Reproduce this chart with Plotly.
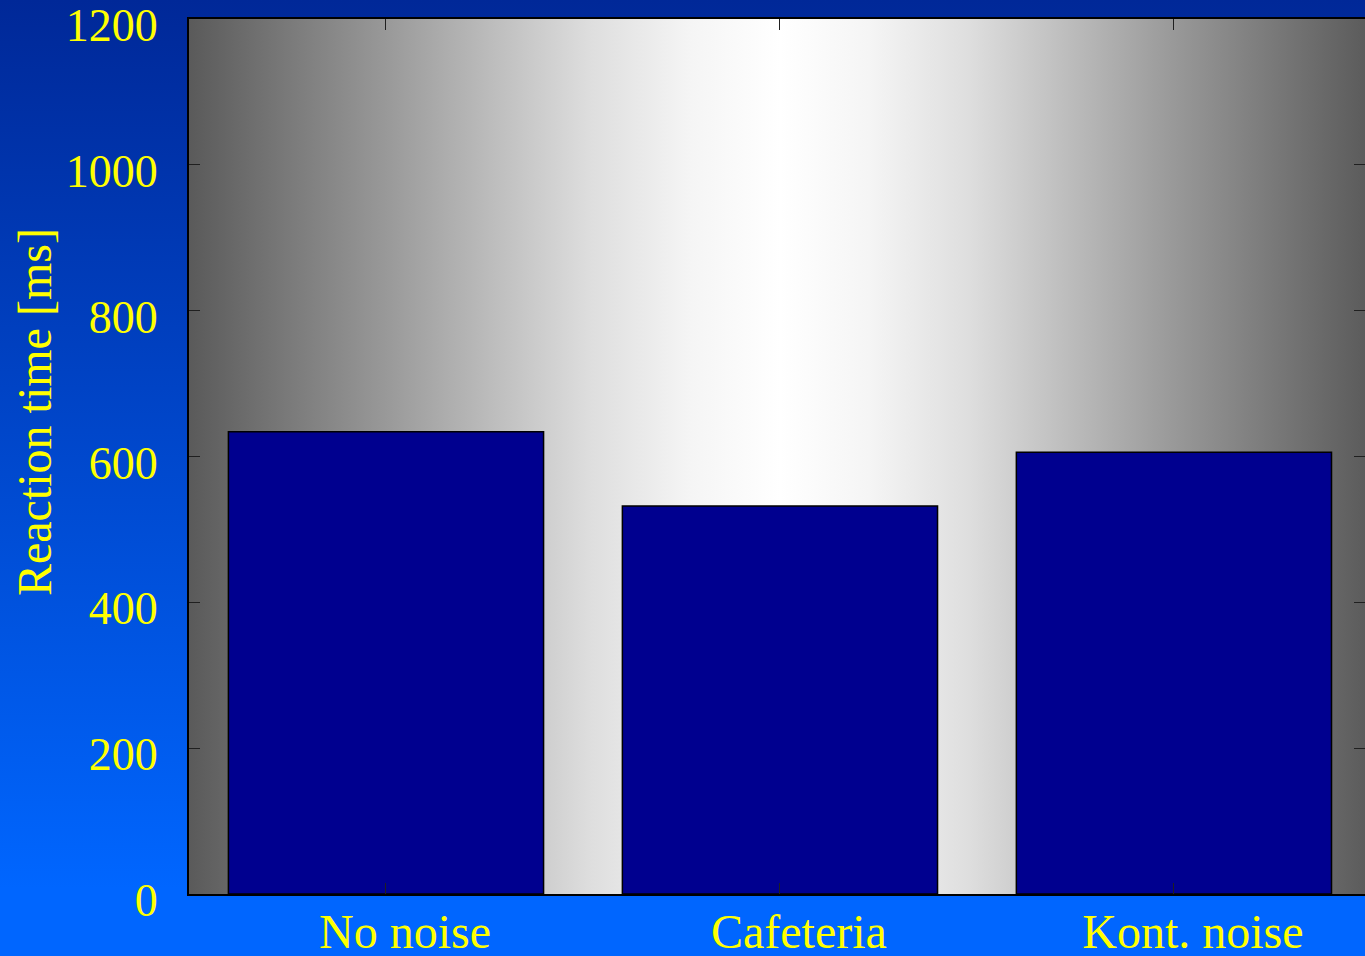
import plotly.graph_objects as go

categories = ["No noise", "Cafeteria", "Kont. noise"]
reaction_ms = [634, 532, 606]
y_ticks = [0, 200, 400, 600, 800, 1000, 1200]
y_title = "Reaction time [ms]"

W, H = 1365, 956
FONT = "Liberation Serif"
YELLOW = "#FFFF00"

x_pos = list(range(len(categories)))

fig = go.Figure()

# Page background: vertical blue gradient (own full-page subplot)
fig.add_trace(go.Scatter(
    x=[0, 1, 1, 0, 0], y=[0, 0, 1, 1, 0], mode="lines", fill="toself",
    line=dict(width=0),
    fillgradient=dict(type="vertical",
                      colorscale=[[0, "#0066FF"], [0.07, "#0066FF"], [1, "#002898"]]),
    hoverinfo="skip", showlegend=False, xaxis="x", yaxis="y"))

# Plot-area background: horizontal grey gradient (subplot under the bars)
fig.add_trace(go.Scatter(
    x=[-0.5, 2.5, 2.5, -0.5, -0.5], y=[0, 0, 1200, 1200, 0], mode="lines", fill="toself",
    line=dict(width=0),
    fillgradient=dict(type="horizontal", start=-0.5, stop=2.5,
                      colorscale=[[0, "#5A5A5A"], [0.085, "#7A7A7A"], [0.17, "#9A9A9A"],
                                  [0.255, "#BCBCBC"], [0.34, "#DEDEDE"], [0.425, "#F5F5F5"],
                                  [0.5, "#FFFFFF"], [0.575, "#F5F5F5"], [0.66, "#DEDEDE"],
                                  [0.745, "#BCBCBC"], [0.83, "#9A9A9A"], [0.915, "#7A7A7A"],
                                  [1, "#5A5A5A"]]),
    hoverinfo="skip", showlegend=False, xaxis="x2", yaxis="y2"))

fig.add_trace(go.Bar(
    x=x_pos, y=reaction_ms, width=0.8,
    marker=dict(color="#00008F", line=dict(color="#000000", width=1.5)),
    hoverinfo="skip", showlegend=False, xaxis="x3", yaxis="y3"))

x0 = 189 / W
ybot = (H - 894) / H
ytop = (H - 19) / H
XR = [-0.5, 2.485]
YR = [0, 1200]

fig.update_layout(
    template="none",
    width=W, height=H, autosize=False,
    margin=dict(l=0, r=0, t=0, b=0, pad=0),
    paper_bgcolor="#0050DD",
    plot_bgcolor="rgba(0,0,0,0)",
    font=dict(family=FONT, color=YELLOW, size=46),
    xaxis=dict(domain=[0, 1], range=[0, 1], visible=False, fixedrange=True, automargin=False),
    yaxis=dict(domain=[0, 1], range=[0, 1], visible=False, fixedrange=True, automargin=False),
    xaxis2=dict(domain=[x0, 1], range=XR, anchor="y2", visible=False, automargin=False),
    yaxis2=dict(domain=[ybot, ytop], range=YR, anchor="x2", visible=False, automargin=False),
    xaxis3=dict(domain=[x0, 1], range=XR, anchor="y3", overlaying="x2", automargin=False,
                tickvals=x_pos, ticktext=categories,
                tickfont=dict(family=FONT, size=48, color=YELLOW),
                ticks="inside", ticklen=11, tickcolor="#202020", tickwidth=1,
                showline=True, linecolor="#000000", linewidth=2, mirror="ticks",
                showgrid=False, zeroline=False, ticklabeloverflow="allow",
                ticklabelshift=19, ticklabelstandoff=-6),
    yaxis3=dict(domain=[ybot, ytop], range=YR, anchor="x3", overlaying="y2", automargin=False,
                tickvals=y_ticks,
                tickfont=dict(family=FONT, size=46, color=YELLOW),
                ticks="inside", ticklen=11, tickcolor="#202020", tickwidth=1,
                showline=True, linecolor="#000000", linewidth=2, mirror="ticks",
                showgrid=False, zeroline=False, ticklabeloverflow="allow",
                ticklabelstandoff=20, ticklabelshift=6),
    annotations=[dict(text=y_title, xref="paper", yref="paper",
                      x=35 / W, y=(H - 412) / H, xanchor="center", yanchor="middle",
                      textangle=-90, showarrow=False,
                      font=dict(family=FONT, size=48, color=YELLOW))],
)

fig.write_html(
    "out.html",
    config={"displayModeBar": False},
    post_script="document.body.style.margin='0';document.body.style.overflow='hidden';"
                "document.body.style.background='#0050DD';",
)
